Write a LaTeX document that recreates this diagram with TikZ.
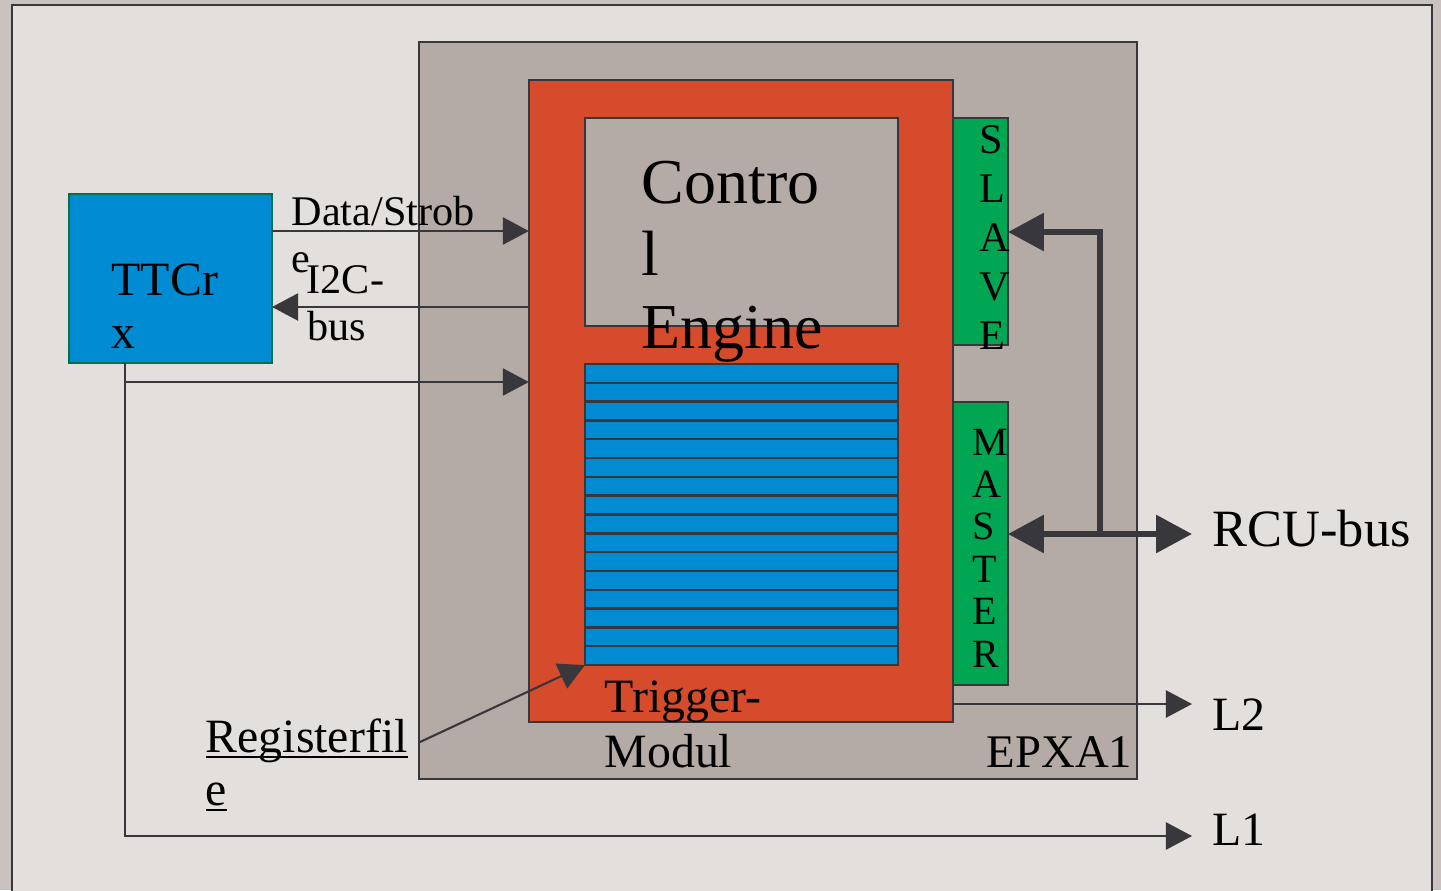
\documentclass[tikz,border=0pt]{standalone}
\usepackage{fontspec}
\setmainfont{Liberation Serif}
\usetikzlibrary{arrows.meta, positioning}

\definecolor{pagegrey}{HTML}{CAC2BE}
\definecolor{framegrey}{HTML}{E3DFDC}
\definecolor{chipgrey}{HTML}{B4AAA6}
\definecolor{trigred}{HTML}{D64B2B}
\definecolor{regblue}{HTML}{008BD2}
\definecolor{busgreen}{HTML}{00A651}
\definecolor{ttcgreen}{HTML}{006F4B}
\definecolor{wire}{HTML}{38373C}

\newlength\ulwd
\newcommand{\ulword}[1]{\settowidth{\ulwd}{#1}\rlap{\rule[-1.8pt]{\ulwd}{0.8pt}}#1}

\begin{document}
\begin{tikzpicture}[x=0.01cm, y=-0.01cm,
    blk/.style={draw=wire, line width=0.6pt, inner sep=0pt, outer sep=0pt},
    lbl/.style={inner sep=0pt, anchor=base west},
    txtS/.style={font=\fontsize{12pt}{14pt}\selectfont},
    txtM/.style={font=\fontsize{13.6pt}{16pt}\selectfont},
    txtL/.style={font=\fontsize{18.2pt}{21pt}\selectfont},
    wr/.style={draw=wire, line width=0.6pt, -{Triangle[length=7.4pt, width=7.7pt]}},
    bus/.style={draw=wire, line width=1.7pt, -{Triangle[length=10.2pt, width=10.5pt]}},
    busboth/.style={draw=wire, line width=1.7pt, {Triangle[length=10.2pt, width=10.5pt]}-{Triangle[length=10.2pt, width=10.5pt]}}]
    \useasboundingbox (0,0) rectangle (1441,890);
    \clip (0,0) rectangle (1441,890);

    % Draw page and frame
    \fill[pagegrey] (0,0) rectangle (1441,890);
    \draw[wire, fill=framegrey, line width=0.6pt] (12,5) rectangle (1432,930);

    % Draw the chip and its blocks
    \node[blk, fill=chipgrey, minimum width=7.18cm, minimum height=7.37cm] (epxa) at (778,410.5) {};
    \node[blk, fill=trigred, minimum width=4.24cm, minimum height=6.42cm] (trig) at (741,401) {};
    \node[blk, fill=chipgrey, minimum width=3.13cm, minimum height=2.08cm] (ctrl) at (741.5,222) {};
    \node[blk, fill=regblue, minimum width=3.13cm, minimum height=3.01cm] (regs) at (741.5,514.5) {};
    \node[blk, fill=busgreen, minimum width=0.55cm, minimum height=2.27cm] (slave) at (980.5,231.5) {};
    \node[blk, fill=busgreen, minimum width=0.55cm, minimum height=2.83cm] (master) at (980.5,543.5) {};
    \node[blk, draw=ttcgreen, fill=regblue, minimum width=2.03cm, minimum height=1.69cm] (ttc) at (170.5,278.5) {};

    % Draw register lines
    \foreach \i in {1,...,15}
        \draw[wire, line width=0.7pt] (regs.west |- 0,{364+\i*18.8125}) -- (regs.east |- 0,{364+\i*18.8125});

    % Labels
    \node[lbl, txtM] (ttcA) at (111,295) {TTCr};
    \node[lbl, txtM] (ttcB) at (111,348) {x};
    \node[lbl, txtL] (ctrlA) at (641,203) {Contro};
    \node[lbl, txtL] (ctrlB) at (641,275) {l};
    \node[lbl, txtL] (ctrlC) at (641,348) {Engine};
    \node[lbl, txtM] (trigA) at (604,712) {Trigger-};
    \node[lbl, txtM] (trigB) at (604,767) {Modul};
    \node[inner sep=0pt, anchor=base east, font=\fontsize{13.3pt}{16pt}\selectfont] (epxaA) at (1133,767) {EPXA1};
    \node[lbl, txtS] (dsA) at (291,225) {Data/Strob};
    \node[lbl, txtS] (dsB) at (291,272) {e};
    \node[lbl, txtS] (i2cA) at (306,293) {I2C-};
    \node[lbl, txtS] (i2cB) at (307,340) {bus};
    \node[lbl, txtM] (regA) at (205,752) {\ulword{Registerfil}};
    \node[lbl, txtM] (regB) at (205,805) {\ulword{e}};
    \node[lbl, font=\fontsize{14.9pt}{17pt}\selectfont] (rcu) at (1212,546) {RCU-bus};
    \node[lbl, txtM] (l2) at (1212,730) {L2};
    \node[lbl, txtM] (l1) at (1212,845) {L1};
    \foreach \ch [count=\k from 0] in {S,L,A,V,E}
        \node[lbl, font=\fontsize{12pt}{14pt}\selectfont] (slv\k) at (979,{153+49*\k}) {\ch};
    \foreach \ch [count=\k from 0] in {M,A,S,T,E,R}
        \node[lbl, font=\fontsize{11.4pt}{13pt}\selectfont] (mst\k) at (972,{455+42.4*\k}) {\ch};

    % Free ends
    \coordinate (tap) at (125,382);
    \coordinate (corner) at (125,836);
    \coordinate (l1end) at (1192,836);
    \coordinate (l2end) at (1192,704);
    \coordinate (rcuend) at (1192,534);
    \coordinate (split) at (1100,534);
    \coordinate (regtail) at (420,742);

    % Draw connections
    \draw[wr] (ttc.east |- 0,231) -- (trig.west |- 0,231);
    \draw[wr] (trig.west |- 0,307) -- (ttc.east |- 0,307);
    \draw[wr] (tap) -- (trig.west |- tap);
    \draw[wr] (ttc.south -| corner) -- (corner) -- (l1end);
    \draw[wr] (trig.east |- l2end) -- (l2end);
    \draw[wr] (regtail) -- (regs.south west);
    \draw[busboth] (master.east |- rcuend) -- (rcuend);
    \draw[bus] (split) -- (split |- 0,232) -- (slave.east |- 0,232);

\end{tikzpicture}
\end{document}
